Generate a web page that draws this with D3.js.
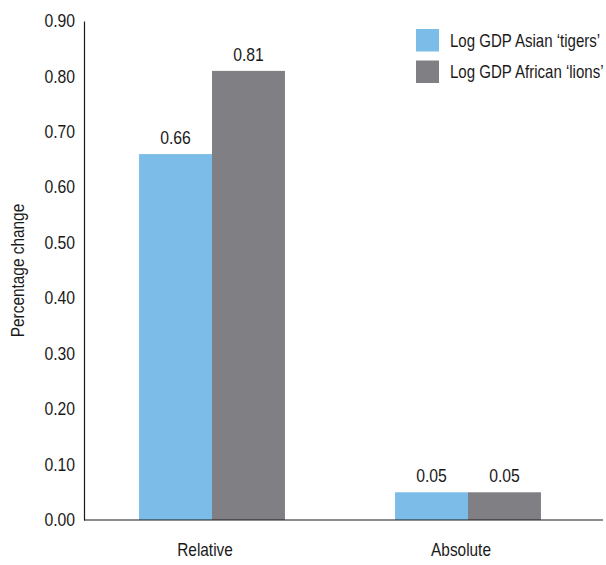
<!DOCTYPE html>
<html>
<head>
<meta charset="utf-8">
<script src="https://cdn.jsdelivr.net/npm/d3@7"></script>
<style>
  html, body { margin: 0; padding: 0; background: #fff; }
  svg text { font-family: "Liberation Sans", Arial, sans-serif; fill: #1a1a1a; }
</style>
</head>
<body>
<svg id="chart" width="606" height="565"></svg>
<script>
// Chart data
const categories = ["Relative", "Absolute"];
const seriesNames = ["Log GDP Asian \u2018tigers\u2019", "Log GDP African \u2018lions\u2019"];
const asianTigers = [0.66, 0.05];
const africanLions = [0.81, 0.05];
const yTicks = [0, 0.1, 0.2, 0.3, 0.4, 0.5, 0.6, 0.7, 0.8, 0.9];
const colors = ["#7bbde8", "#808084"];

const FONT = 17.5;
const NARROW = 0.88;   // horizontal squeeze for a condensed look
const NARROW_NUM = 0.9;

// Squeeze text horizontally while keeping its anchor point in place
function condense(sel, k) {
  sel.each(function () {
    const t = d3.select(this);
    const x = +t.attr("x") || 0;
    const prev = t.attr("transform") || "";
    t.attr("x", x / k).attr("transform", `${prev} scale(${k},1)`);
  });
}

const svg = d3.select("#chart");
const plotLeft = 84, plotRight = 603, plotTop = 21, plotBottom = 520;

const y = d3.scaleLinear().domain([0, 0.9]).range([plotBottom, plotTop]);
const x0 = d3.scaleBand().domain(categories).range([plotLeft, 596])
  .paddingInner(0.43).paddingOuter(0.215);
const x1 = d3.scaleBand().domain(seriesNames).range([0, x0.bandwidth()]);

const rows = categories.map((c, i) => ({
  cat: c,
  values: [
    { s: seriesNames[0], v: asianTigers[i], color: colors[0] },
    { s: seriesNames[1], v: africanLions[i], color: colors[1] }
  ]
}));

// Bars
const groups = svg.append("g").selectAll("g").data(rows).join("g")
  .attr("transform", d => `translate(${x0(d.cat)},0)`);
groups.selectAll("rect").data(d => d.values).join("rect")
  .attr("x", d => x1(d.s))
  .attr("y", d => y(d.v))
  .attr("width", x1.bandwidth())
  .attr("height", d => y(0) - y(d.v))
  .attr("fill", d => d.color);

// Value labels
const valueLabels = groups.selectAll("text").data(d => d.values).join("text")
  .attr("x", d => x1(d.s) + x1.bandwidth() / 2)
  .attr("y", d => y(d.v) - 10)
  .attr("text-anchor", "middle")
  .attr("font-size", FONT)
  .text(d => d3.format(".2f")(d.v));
condense(valueLabels, NARROW_NUM);

// Y axis
const yAxis = d3.axisLeft(y).tickValues(yTicks).tickFormat(d3.format(".2f")).tickSize(0).tickPadding(9);
const yg = svg.append("g").attr("transform", `translate(${plotLeft},0)`).call(yAxis);
yg.select(".domain").attr("stroke", "#1a1a1a").attr("stroke-width", 1.2);
yg.selectAll("text").attr("font-size", FONT).attr("font-family", null).attr("fill", null);
condense(yg.selectAll("text"), NARROW_NUM);

// X axis
const xAxis = d3.axisBottom(x0).tickSize(0).tickPadding(24);
const xg = svg.append("g").attr("transform", `translate(0,${plotBottom})`).call(xAxis);
xg.select(".domain").remove();
xg.append("line").attr("x1", plotLeft).attr("x2", plotRight).attr("stroke", "#1a1a1a").attr("stroke-width", 1.2);
xg.selectAll(".tick text").attr("font-size", FONT).attr("font-family", null).attr("fill", null).attr("x", -7);
condense(xg.selectAll(".tick text"), NARROW);

// Y axis title
const yTitle = svg.append("text")
  .attr("transform", `translate(24,${(plotTop + plotBottom) / 2}) rotate(-90)`)
  .attr("text-anchor", "middle")
  .attr("font-size", FONT)
  .text("Percentage change");
condense(yTitle, NARROW);

// Legend
const legend = svg.append("g").attr("transform", "translate(416,29)");
const items = legend.selectAll("g").data(seriesNames).join("g")
  .attr("transform", (d, i) => `translate(0,${i * 31.5})`);
items.append("rect").attr("width", 23).attr("height", 22.5).attr("fill", (d, i) => colors[i]);
const legendText = items.append("text").attr("x", 34).attr("y", 11.5).attr("dy", "0.35em")
  .attr("font-size", FONT).text(d => d);
condense(legendText, 0.86);
</script>
</body>
</html>
